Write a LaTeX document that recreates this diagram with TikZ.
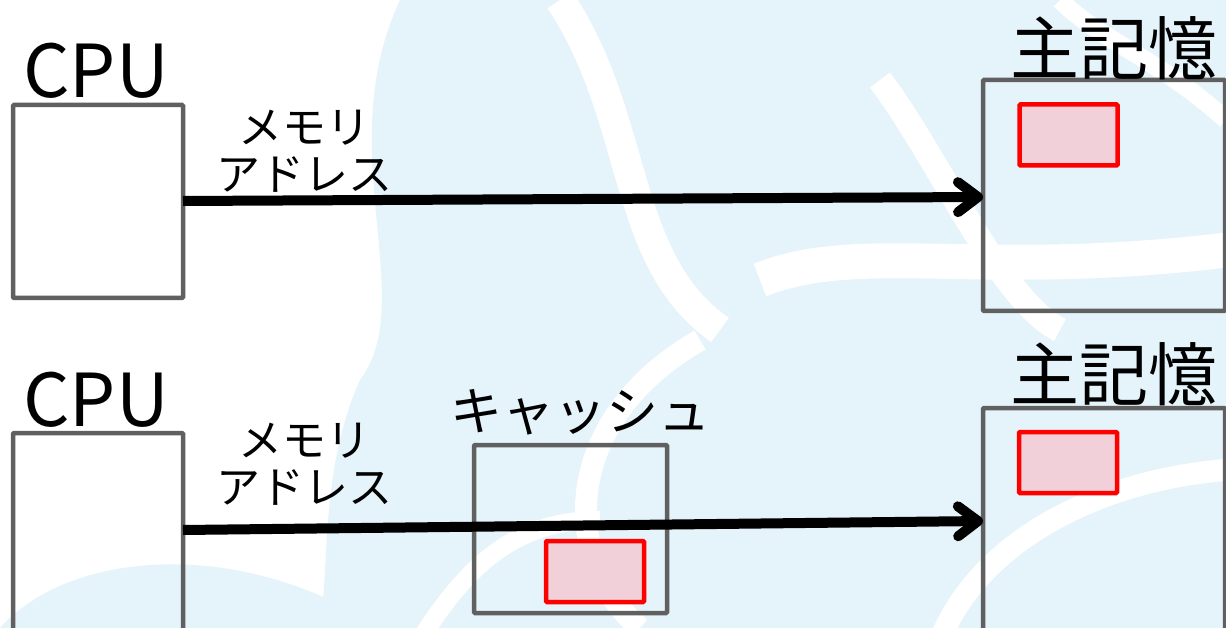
\documentclass[tikz,border=0pt]{standalone}
\usepackage{fontspec}
\setmainfont{Noto Sans CJK JP}
\usetikzlibrary{arrows.meta,calc}
\definecolor{bgblue}{RGB}{229,243,251}
\definecolor{boxgray}{RGB}{96,96,96}
\definecolor{hatch}{RGB}{242,208,218}
\begin{document}
\begin{tikzpicture}[x=1pt,y=-1pt,
  box/.style={draw=boxgray,line width=4.5pt,rounded corners=1pt,inner sep=0pt,outer sep=0pt},
  block/.style={draw=red,line width=4.5pt,fill=hatch,rounded corners=1pt,inner sep=0pt,outer sep=0pt,minimum width=98pt,minimum height=61pt},
  lbl/.style={inner sep=0pt,font=\fontsize{73}{80}\selectfont},
  klbl/.style={inner sep=0pt,font=\fontsize{69}{72}\selectfont},
  clbl/.style={inner sep=0pt,font=\fontsize{52}{56}\selectfont},
  alb/.style={inner sep=0pt,align=center,font=\fontsize{44}{47}\selectfont},
  bus/.style={line width=10pt,-{Straight Barb[round,length=20pt,width=30pt]}}
]
\clip (0,0) rectangle (1226,628);
% background decoration
\fill[white] (0,0) rectangle (1226,628);
\fill[bgblue] (400,0) .. controls (330,150) and (420,300) .. (360,380)
  .. controls (320,470) and (330,560) .. (320,628) -- (1226,628) -- (1226,0) -- cycle;
\fill[bgblue] (0,628) .. controls (60,560) and (200,540) .. (330,600) -- (330,628) -- cycle;
\draw[white,line width=30pt] (560,0) .. controls (640,120) and (620,260) .. (720,330);
\draw[white,line width=22pt] (700,340) .. controls (560,420) and (560,560) .. (640,628);
\draw[white,line width=25pt] (880,80) .. controls (940,160) and (1000,300) .. (1060,330);
\draw[white,line width=35pt] (760,280) .. controls (860,240) and (980,280) .. (1226,250);
\draw[white,line width=22pt] (940,640) .. controls (980,540) and (1100,480) .. (1226,470);
\draw[white,line width=18pt] (420,640) .. controls (470,560) and (520,520) .. (600,520);
\draw[white,line width=18pt] (1226,120) .. controls (1160,60) and (1100,40) .. (1060,0);
% top row
\node[box,minimum width=170pt,minimum height=193pt] (cpu1) at (98,201.5) {};
\node[lbl,anchor=center] (cpuL1) at (96,71) {CPU};
\node[box,minimum width=242pt,minimum height=231pt] (mem1) at (1104,195.5) {};
\node[klbl] (memL1) at (1114,48) {主記憶};
\node[block] (blk1) at (1068.5,135) {};
\node[alb] (addr1) at (304,151) {メモリ\\アドレス};
\coordinate (s1) at ($(cpu1.north east)+(0,96)$);
\coordinate (e1) at ($(mem1.north west)+(0,117)$);
\draw[bus] (s1) -- (e1);
% bottom row
\node[box,minimum width=170pt,minimum height=220pt] (cpu2) at (98,543) {};
\node[lbl] (cpuL2) at (96,400) {CPU};
\node[box,minimum width=193pt,minimum height=168pt] (cache) at (570.5,529) {};
\node[clbl] (cacheL) at (580,412) {キャッシュ};
\node[block] (blk3) at (595,571.5) {};
\node[box,minimum width=242pt,minimum height=260pt] (mem2) at (1104,538) {};
\node[klbl] (memL2) at (1114,374) {主記憶};
\node[block] (blk2) at (1068,462.5) {};
\node[alb] (addr2) at (304,464) {メモリ\\アドレス};
\coordinate (s2) at ($(cpu2.north east)+(0,97)$);
\coordinate (e2) at ($(mem2.north west)+(0,113)$);
\draw[bus] (s2) -- (e2);
\end{tikzpicture}
\end{document}
